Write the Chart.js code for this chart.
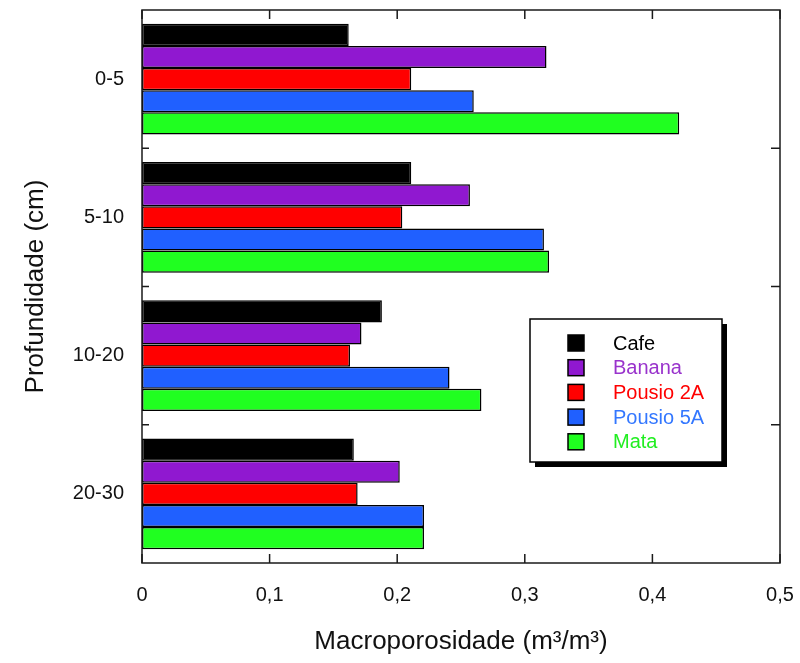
<!DOCTYPE html>
<html>
<head>
<meta charset="utf-8">
<script src="https://cdn.jsdelivr.net/npm/chart.js@4.4.1/dist/chart.umd.min.js"></script>
<style>
  body { margin: 0; background: #ffffff; }
  #wrap { width: 800px; height: 663px; }
</style>
</head>
<body>
<div id="wrap"><canvas id="porosityChart" width="800" height="663"></canvas></div>
<script>
// Depth classes (cm)
const depths = ["0-5", "5-10", "10-20", "20-30"];

// Macroporosity (m3/m3) per land use
const cafe = [0.162, 0.211, 0.188, 0.166];
const banana = [0.317, 0.257, 0.172, 0.202];
const pousio2A = [0.211, 0.204, 0.163, 0.169];
const pousio5A = [0.260, 0.315, 0.241, 0.221];
const mata = [0.421, 0.319, 0.266, 0.221];

const seriesNames = ["Cafe", "Banana", "Pousio 2A", "Pousio 5A", "Mata"];
const seriesColors = ["#000000", "#9018d0", "#ff0000", "#2060ff", "#20ff20"];
const legendTextColors = ["#000000", "#9933cc", "#ff0000", "#3377ff", "#22ee22"];

const xTicks = [0, 0.1, 0.2, 0.3, 0.4, 0.5];

const fontFamily = "'Liberation Sans', Arial, sans-serif";

function makeDataset(label, values, i) {
    return {
        label: label,
        data: values,
        backgroundColor: seriesColors[i],
        borderColor: "#000000",
        borderWidth: 1.5,
        borderSkipped: false,
        categoryPercentage: 0.8,
        barPercentage: 1.0
    };
}

// frame around the plot with small inward ticks (like the original plot)
const framePlugin = {
    id: "frame",
    afterDatasetsDraw(chart) {
        const { ctx, chartArea: a, scales } = chart;
        ctx.save();
        ctx.strokeStyle = "#1a1a1a";
        ctx.lineWidth = 1.5;
        ctx.strokeRect(a.left, a.top, a.right - a.left, a.bottom - a.top);

        ctx.beginPath();
        xTicks.forEach(v => {
            const px = scales.x.getPixelForValue(v);
            ctx.moveTo(px, a.top);
            ctx.lineTo(px, a.top + 9);
            ctx.moveTo(px, a.bottom);
            ctx.lineTo(px, a.bottom - 9);
        });
        for (let i = 0; i < depths.length - 1; i++) {
            const py = (scales.y.getPixelForValue(i) + scales.y.getPixelForValue(i + 1)) / 2;
            ctx.moveTo(a.left, py);
            ctx.lineTo(a.left + 7, py);
            ctx.moveTo(a.right, py);
            ctx.lineTo(a.right - 9, py);
        }
        ctx.stroke();
        ctx.restore();
    }
};

// legend box with drop shadow inside the plot
const boxLegendPlugin = {
    id: "boxLegend",
    afterDraw(chart) {
        const { ctx } = chart;
        const bx = 530, by = 319, bw = 192, bh = 143;
        ctx.save();
        ctx.fillStyle = "#000000";
        ctx.fillRect(bx + 5, by + 5, bw, bh);
        ctx.fillStyle = "#ffffff";
        ctx.fillRect(bx, by, bw, bh);
        ctx.strokeStyle = "#000000";
        ctx.lineWidth = 1.5;
        ctx.strokeRect(bx, by, bw, bh);

        ctx.font = "20px " + fontFamily;
        ctx.textBaseline = "middle";
        ctx.textAlign = "left";
        chart.data.datasets.forEach((ds, i) => {
            const cy = by + 24 + i * 24.7;
            ctx.fillStyle = ds.backgroundColor;
            ctx.fillRect(bx + 38, cy - 8, 16, 16);
            ctx.strokeStyle = "#000000";
            ctx.lineWidth = 1.5;
            ctx.strokeRect(bx + 38, cy - 8, 16, 16);
            ctx.fillStyle = legendTextColors[i];
            ctx.fillText(ds.label, bx + 83, cy + 1);
        });
        ctx.restore();
    }
};

const ctx = document.getElementById("porosityChart").getContext("2d");
const chart = new Chart(ctx, {
    type: "bar",
    data: {
        labels: depths,
        datasets: [
            makeDataset(seriesNames[0], cafe, 0),
            makeDataset(seriesNames[1], banana, 1),
            makeDataset(seriesNames[2], pousio2A, 2),
            makeDataset(seriesNames[3], pousio5A, 3),
            makeDataset(seriesNames[4], mata, 4)
        ]
    },
    options: {
        indexAxis: "y",
        responsive: false,
        animation: false,
        layout: { padding: { left: 0, right: 20, top: 10, bottom: 0 } },
        plugins: {
            legend: { display: false },
            tooltip: { enabled: false }
        },
        scales: {
            x: {
                min: 0,
                max: 0.5,
                afterBuildTicks: scale => {
                    scale.ticks = xTicks.map(v => ({ value: v }));
                },
                afterFit: scale => {
                    scale.height = 100;
                    scale.paddingLeft = 0;
                    scale.paddingRight = 0;
                },
                grid: { display: false, drawTicks: false },
                border: { display: false },
                ticks: {
                    color: "#111111",
                    padding: 20,
                    font: { family: fontFamily, size: 20 },
                    callback: v => v === 0 ? "0" : v.toFixed(1).replace(".", ",")
                },
                title: {
                    display: true,
                    text: "Macroporosidade (m³/m³)",
                    color: "#111111",
                    font: { family: fontFamily, size: 26 },
                    padding: { top: 0, bottom: 6 }
                }
            },
            y: {
                afterFit: scale => {
                    scale.width = 142;
                    scale.paddingTop = 0;
                    scale.paddingBottom = 0;
                },
                grid: { display: false, drawTicks: false },
                border: { display: false },
                ticks: {
                    color: "#111111",
                    padding: 18,
                    font: { family: fontFamily, size: 20 }
                },
                title: {
                    display: true,
                    text: "Profundidade (cm)",
                    color: "#111111",
                    font: { family: fontFamily, size: 26 },
                    padding: { top: 20, bottom: 0 }
                }
            }
        }
    },
    plugins: [framePlugin, boxLegendPlugin]
});
</script>
</body>
</html>
